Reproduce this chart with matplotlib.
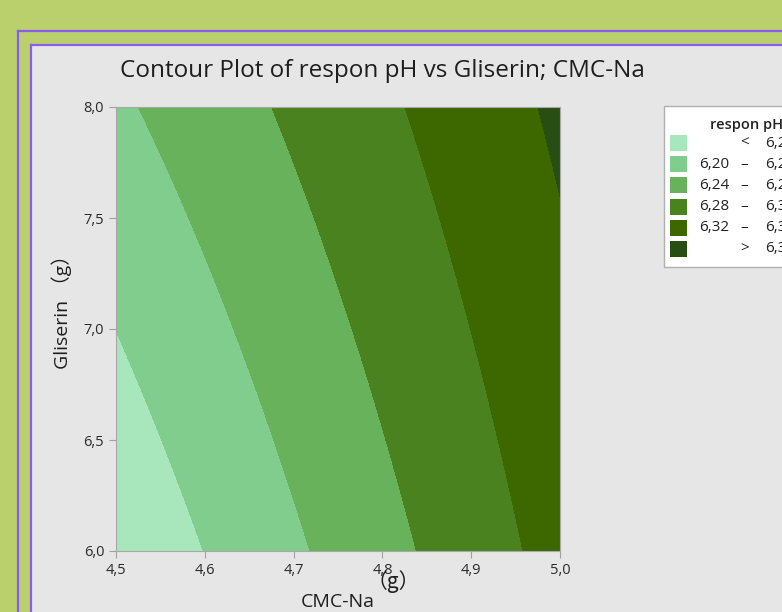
import numpy as np
from matplotlib import pyplot as plt
from matplotlib.patches import Rectangle
from matplotlib.lines import Line2D

# fitted response surface (uncoded units):
# pH = b0 + b1*CMC-Na + b2*Gliserin + b3*CMC-Na*Gliserin
coef_names = ['const', 'CMC-Na', 'Gliserin', 'CMC-Na*Gliserin']
coef_values = [3.5668, 0.5338, 0.18335, -0.0334]

cmc_range = [4.5, 5.0]
gliserin_range = [6.0, 8.0]
levels = [6.20, 6.24, 6.28, 6.32, 6.36]
band_labels = ['<', '6,20', '6,24', '6,28', '6,32', '>']
band_ends = ['6,20', '6,24', '6,28', '6,32', '6,36', '6,36']
band_colors = ['#a8e6bb', '#80cd8d', '#67b25a', '#4a8220', '#3d6800', '#284e14']

x_ticks = [4.5, 4.6, 4.7, 4.8, 4.9, 5.0]
y_ticks = [6.0, 6.5, 7.0, 7.5, 8.0]

W, H = 782, 612
fig = plt.figure(figsize=(W / 100, H / 100), dpi=100, facecolor='#b9d06c')
plt.rcParams['font.family'] = ['Open Sans', 'Noto Sans CJK SC', 'DejaVu Sans']
txt = '#1e1e1e'

# grey panel and purple window frames
fig.add_artist(Rectangle((31 / W, 0), 1, 1 - 45 / H, transform=fig.transFigure,
                         facecolor='#e6e6e6', edgecolor='none', zorder=0))
purple = '#8b5cf0'
for px, py in [(18, 31), (31, 45)]:
    fig.add_artist(Line2D([px / W, px / W], [0, 1 - py / H], color=purple, lw=1.6,
                          transform=fig.transFigure))
    fig.add_artist(Line2D([px / W, 1], [1 - py / H, 1 - py / H], color=purple, lw=1.6,
                          transform=fig.transFigure))

ax = fig.add_axes([116 / W, (H - 551) / H, 444 / W, 444 / H])
x = np.linspace(cmc_range[0], cmc_range[1], 300)
y = np.linspace(gliserin_range[0], gliserin_range[1], 300)
X, Y = np.meshgrid(x, y)
Z = coef_values[0] + coef_values[1] * X + coef_values[2] * Y + coef_values[3] * X * Y
all_levels = [Z.min() - 1] + levels + [Z.max() + 1]
ax.contourf(X, Y, Z, levels=all_levels, colors=band_colors)

ax.set_xlim(cmc_range)
ax.set_ylim(gliserin_range)
ax.set_xticks(x_ticks)
ax.set_yticks(y_ticks)
ax.set_xticklabels([f'{t:.1f}'.replace('.', ',') for t in x_ticks], fontsize=10.5)
ax.set_yticklabels([f'{t:.1f}'.replace('.', ',') for t in y_ticks], fontsize=10.5)
ax.tick_params(direction='out', length=5, color='#a0a0a0', pad=3.5, labelcolor='#2a2a2a')
for s in ax.spines.values():
    s.set_color('#a8a8a8')
    s.set_linewidth(0.8)

fig.text(120 / W, 1 - 71 / H, 'Contour Plot of respon pH vs Gliserin; CMC-Na',
         fontsize=17.5, va='center', ha='left', color=txt)
fig.text(62 / W, 1 - 307 / H, 'Gliserin （g）', rotation=90, fontsize=14,
         ha='center', va='center', color=txt)
fig.text(338 / W, 1 - 602 / H, 'CMC-Na', fontsize=14, ha='center', va='center',
         color=txt)
fig.text(393 / W, 1 - 582 / H, '（g）', fontsize=15, ha='center', va='center',
         color=txt, family=['Noto Sans CJK SC', 'DejaVu Sans'])

# legend box (cut at the right edge like the screenshot)
fig.add_artist(Rectangle((664 / W, 1 - 267 / H), 200 / W, 161 / H,
                         transform=fig.transFigure, facecolor='white',
                         edgecolor='#b0b0b0', lw=1, zorder=2))
fig.text(710 / W, 1 - 125 / H, 'respon pH', fontsize=10.5, fontweight='semibold',
         ha='left', va='center', zorder=3, color='#222222')
for i, c in enumerate(band_colors):
    yc = 143 + i * 21.2
    fig.add_artist(Rectangle((670 / W, 1 - (yc + 8) / H), 17 / W, 16 / H,
                             transform=fig.transFigure, facecolor=c,
                             edgecolor='none', zorder=3))
    if band_labels[i] in ('<', '>'):
        fig.text(745 / W, 1 - yc / H, band_labels[i], fontsize=11, ha='center',
                 va='center', zorder=3, color='#222222')
    else:
        fig.text(699 / W, 1 - yc / H, band_labels[i], fontsize=11, ha='left',
                 va='center', zorder=3, color='#222222')
        fig.text(744 / W, 1 - yc / H, '–', fontsize=11, ha='center',
                 va='center', zorder=3, color='#222222')
    fig.text(765 / W, 1 - yc / H, band_ends[i], fontsize=11, ha='left',
             va='center', zorder=3, color='#222222')

plt.savefig('out.png', dpi=100, facecolor=fig.get_facecolor())
